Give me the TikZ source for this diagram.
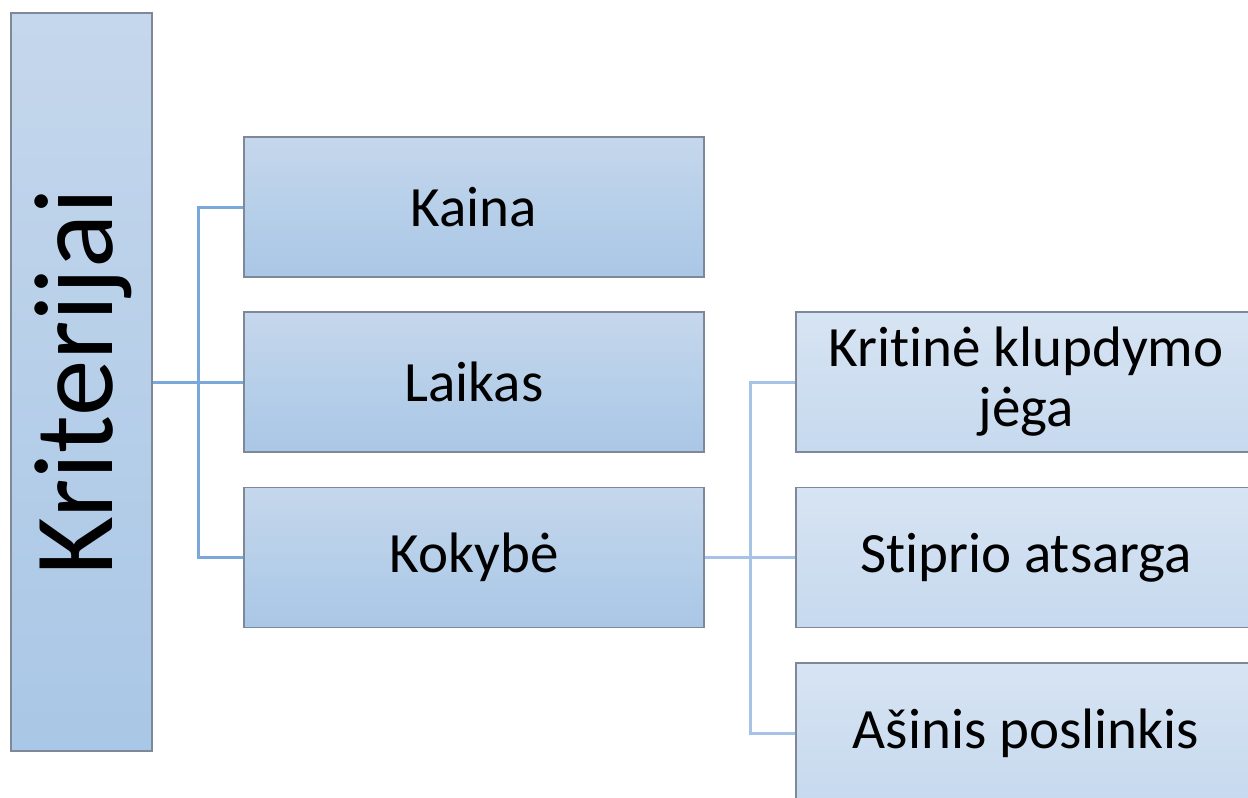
\documentclass[tikz,border=0pt]{standalone}
\usepackage{fontspec}
\setmainfont{Carlito}[Ligatures=NoCommon]
\definecolor{bordc}{HTML}{7E8898}
\definecolor{topA}{HTML}{C5D7EC}
\definecolor{botA}{HTML}{A9C7E6}
\definecolor{topB}{HTML}{D7E4F3}
\definecolor{botB}{HTML}{C6D9EE}
\definecolor{lineA}{HTML}{7BA8DB}
\definecolor{lineB}{HTML}{A6C2E6}
\tikzset{
  boxA/.style={draw=bordc, line width=1.5pt, rectangle, top color=topA, bottom color=botA, minimum width=460pt, minimum height=140pt, inner sep=0pt, font=\fontsize{57}{60}\selectfont, align=center},
  boxB/.style={boxA, top color=topB, bottom color=botB},
  connA/.style={draw=lineA, line width=3pt},
  connB/.style={draw=lineB, line width=3pt},
}
\begin{document}
\begin{tikzpicture}[x=1pt,y=-1pt]
\useasboundingbox (0,0) rectangle (1248,798);
\clip (0,0) rectangle (1248,798);
\fill[white] (0,0) rectangle (1248,798);
% nodes
\node[boxA, minimum width=141pt, minimum height=738pt] (root) at (81.5,382) {};
\node[rotate=90, anchor=base, inner sep=0pt, font=\fontsize{113}{120}\selectfont] (roottext) at (112,382) {Kriterijai};
\node[boxA] (kaina) at (474,207) {Kaina};
\node[boxA] (laikas) at (474,382) {Laikas};
\node[boxA] (kokybe) at (474,557.5) {Kokybė};
\node[boxB] (krit) at (1026,382) {Kritinė klupdymo\\jėga};
\node[boxB] (stip) at (1026,557.5) {Stiprio atsarga};
\node[boxB] (asin) at (1026,733) {Ašinis poslinkis};
% connectors
\coordinate (j1) at (198,382);
\coordinate (j2) at (750,557.5);
\draw[connA] (root.east) -- (j1);
\draw[connA] (j1) |- (kaina.west);
\draw[connA] (j1) -- (laikas.west);
\draw[connA] (j1) |- (kokybe.west);
\draw[connB] (kokybe.east) -- (j2);
\draw[connB] (j2) |- (krit.west);
\draw[connB] (j2) -- (stip.west);
\draw[connB] (j2) |- (asin.west);
\end{tikzpicture}
\end{document}
